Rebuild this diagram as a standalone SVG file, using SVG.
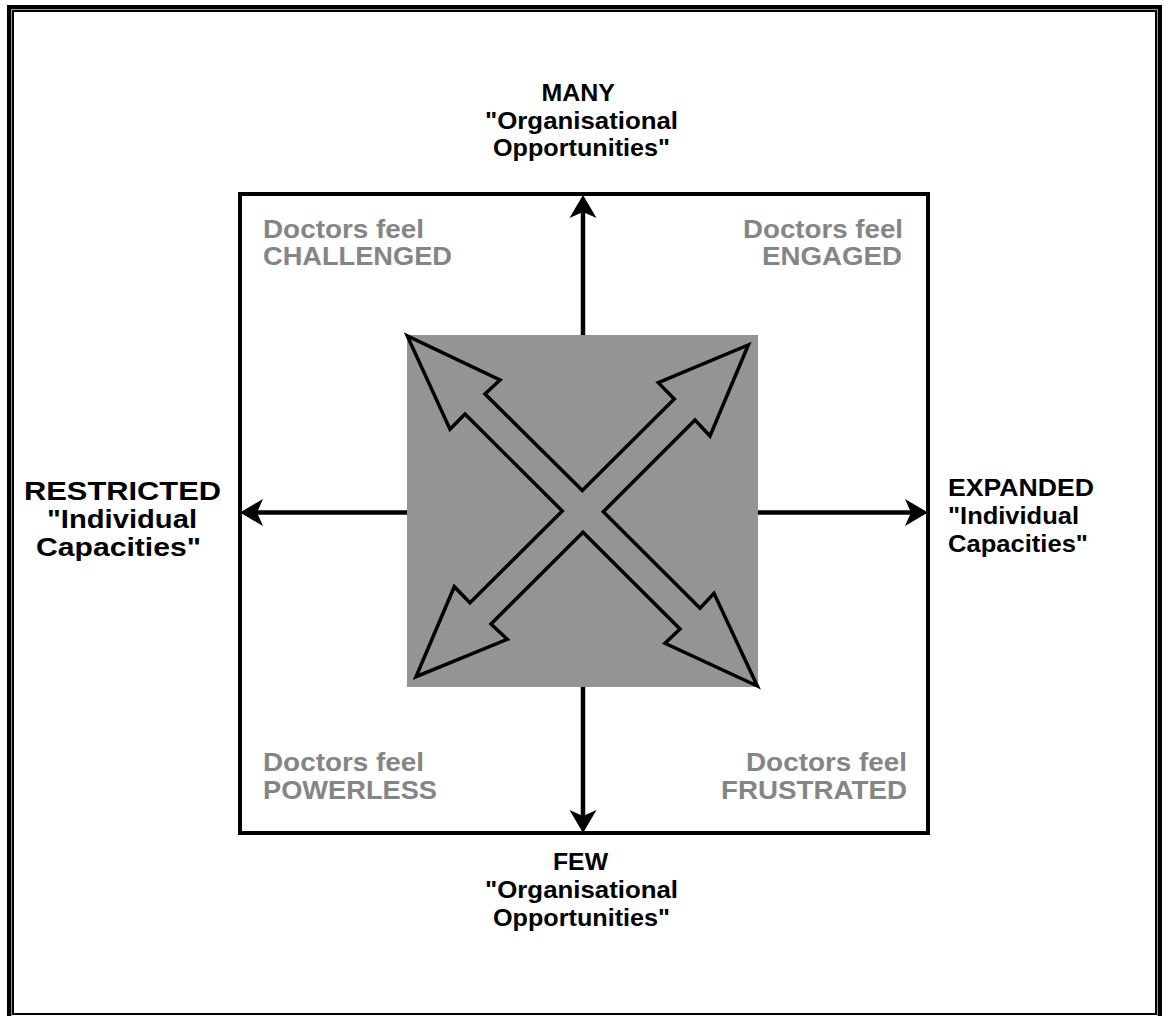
<svg xmlns="http://www.w3.org/2000/svg" width="1163" height="1016" viewBox="0 0 1163 1016">
  <style>
    .lbl { font-family: "Liberation Sans", Arial, sans-serif; font-weight: bold; font-size: 24.5px; fill: #000; }
    .q { font-family: "Liberation Sans", Arial, sans-serif; font-weight: bold; font-size: 25.5px; fill: #858585; }
    .axis { stroke: #000; stroke-width: 4.5; fill: none; }
  </style>
  <defs>
    <marker id="ah" markerUnits="userSpaceOnUse" markerWidth="30" markerHeight="30" viewBox="0 -15 30 30" refX="6" refY="0" orient="auto" overflow="visible">
      <path d="M23,0 L0,-13.5 L6,0 L0,13.5 Z" fill="#000"/>
    </marker>
  </defs>
  <rect width="1163" height="1016" fill="#fff"/>
  <g id="frame">
    <rect x="9" y="7" width="1151" height="1020" fill="none" stroke="#000" stroke-width="4"/>
    <rect x="11.5" y="9.5" width="1146" height="1015" fill="none" stroke="#999" stroke-width="1"/>
    <rect x="13" y="11" width="1143" height="1003" fill="none" stroke="#000" stroke-width="2"/>
  </g>
  <g id="quadrant-box">
    <rect x="240" y="194" width="688" height="639" fill="none" stroke="#000" stroke-width="4"/>
  </g>
  <g id="connectors">
    <line class="axis" x1="583" y1="335" x2="583" y2="212" marker-end="url(#ah)"/>
    <line class="axis" x1="583" y1="687" x2="583" y2="816" marker-end="url(#ah)"/>
    <line class="axis" x1="407" y1="512.5" x2="257" y2="512.5" marker-end="url(#ah)"/>
    <line class="axis" x1="758" y1="512.5" x2="911" y2="512.5" marker-end="url(#ah)"/>
  </g>
  <g id="center">
    <rect x="407" y="335" width="351" height="352" fill="#949494"/>
    <polygon fill="#949494" stroke="#000" stroke-width="3.5" stroke-linejoin="miter" stroke-miterlimit="10"
      points="582.3,490.5 485,394 500,380 407.3,336 450,429.3 465,414 562.3,511 470,602.7 454.3,586.7 416,676.7 507.3,639.3 491,624 583,532.3 680,629 665,643.3 757.3,686 714,593.3 700,608.3 603.3,511.7 695,420 710,436 748.3,345 658.3,382.7 674.3,399"/>
  </g>
  <g id="label-many">
    <text class="lbl" x="541.5" y="100.5" textLength="73.5" lengthAdjust="spacingAndGlyphs">MANY</text>
    <text class="lbl" x="485" y="128.5" textLength="193" lengthAdjust="spacingAndGlyphs">"Organisational</text>
    <text class="lbl" x="493" y="155.5" textLength="177" lengthAdjust="spacingAndGlyphs">Opportunities"</text>
  </g>
  <g id="label-few">
    <text class="lbl" x="553" y="870" textLength="55" lengthAdjust="spacingAndGlyphs">FEW</text>
    <text class="lbl" x="485" y="898" textLength="193" lengthAdjust="spacingAndGlyphs">"Organisational</text>
    <text class="lbl" x="493" y="926" textLength="177" lengthAdjust="spacingAndGlyphs">Opportunities"</text>
  </g>
  <g id="label-restricted">
    <text class="lbl" x="24" y="500" textLength="197" lengthAdjust="spacingAndGlyphs" style="font-size:26px">RESTRICTED</text>
    <text class="lbl" x="47" y="528" textLength="150" lengthAdjust="spacingAndGlyphs" style="font-size:26px">"Individual</text>
    <text class="lbl" x="36" y="556" textLength="165" lengthAdjust="spacingAndGlyphs" style="font-size:26px">Capacities"</text>
  </g>
  <g id="label-expanded">
    <text class="lbl" x="948" y="496" textLength="146" lengthAdjust="spacingAndGlyphs">EXPANDED</text>
    <text class="lbl" x="948" y="524" textLength="131" lengthAdjust="spacingAndGlyphs">"Individual</text>
    <text class="lbl" x="948" y="552" textLength="140" lengthAdjust="spacingAndGlyphs">Capacities"</text>
  </g>
  <g id="q-challenged">
    <text class="q" x="263" y="237.5" textLength="161" lengthAdjust="spacingAndGlyphs">Doctors feel</text>
    <text class="q" x="263" y="265" textLength="189" lengthAdjust="spacingAndGlyphs">CHALLENGED</text>
  </g>
  <g id="q-engaged">
    <text class="q" x="743" y="237.5" textLength="160" lengthAdjust="spacingAndGlyphs">Doctors feel</text>
    <text class="q" x="762" y="265" textLength="140" lengthAdjust="spacingAndGlyphs">ENGAGED</text>
  </g>
  <g id="q-powerless">
    <text class="q" x="263" y="771" textLength="161" lengthAdjust="spacingAndGlyphs">Doctors feel</text>
    <text class="q" x="263" y="799" textLength="174" lengthAdjust="spacingAndGlyphs">POWERLESS</text>
  </g>
  <g id="q-frustrated">
    <text class="q" x="746" y="771" textLength="161" lengthAdjust="spacingAndGlyphs">Doctors feel</text>
    <text class="q" x="721" y="799" textLength="186" lengthAdjust="spacingAndGlyphs">FRUSTRATED</text>
  </g>
</svg>
